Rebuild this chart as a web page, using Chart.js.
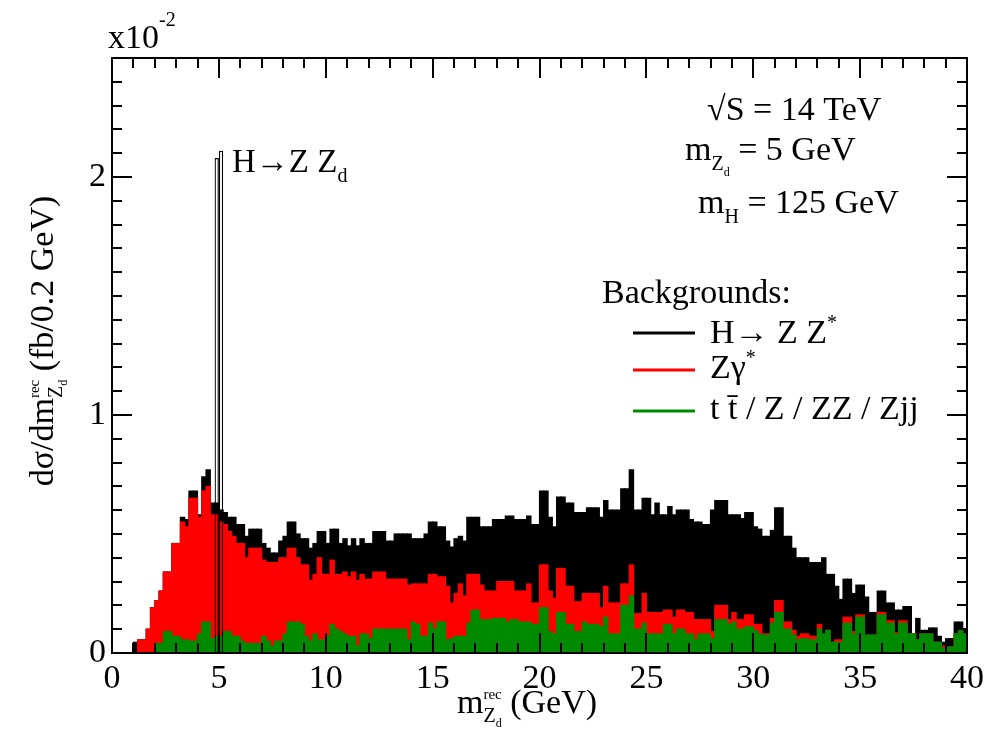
<!DOCTYPE html>
<html>
<head>
<meta charset="utf-8">
<script src="https://cdn.jsdelivr.net/npm/chart.js@4.4.1/dist/chart.umd.min.js"></script>
<style>
  html, body { margin: 0; padding: 0; background: #fff; }
</style>
</head>
<body>
<canvas id="mzd" width="1002" height="744"></canvas>
<script>
// reconstructed m_Zd, 0.2 GeV bins from 0 to 40 GeV, y in units of 1e-2 fb
var binWidth = 0.2;
var nBins = 200;
var xTicks = [0, 5, 10, 15, 20, 25, 30, 35, 40];
var yTicks = [0, 1, 2];

// tops of the stacked backgrounds
// black = everything incl. H -> Z Z*
var totalBkg = [
  0, 0, 0, 0, 0, 0.045, 0.055, 0.055, 0.10, 0.19,
  0.22, 0.26, 0.34, 0.34, 0.46, 0.46, 0.57, 0.56, 0.68, 0.68,
  0.58, 0.74, 0.77, 0.63, 0.63, 0.60, 0.59, 0.57, 0.57, 0.54,
  0.54, 0.49, 0.52, 0.52, 0.52, 0.46, 0.44, 0.42, 0.42, 0.47,
  0.49, 0.55, 0.55, 0.50, 0.48, 0.48, 0.44, 0.46, 0.51, 0.51,
  0.46, 0.52, 0.52, 0.46, 0.48, 0.45, 0.48, 0.45, 0.48, 0.46,
  0.46, 0.51, 0.51, 0.51, 0.47, 0.47, 0.50, 0.50, 0.50, 0.50,
  0.48, 0.48, 0.48, 0.50, 0.55, 0.55, 0.53, 0.53, 0.47, 0.445,
  0.48, 0.49, 0.47, 0.57, 0.57, 0.57, 0.53, 0.53, 0.53, 0.56,
  0.56, 0.56, 0.575, 0.575, 0.56, 0.56, 0.56, 0.575, 0.54, 0.54,
  0.68, 0.68, 0.57, 0.53, 0.655, 0.655, 0.63, 0.63, 0.59, 0.59,
  0.59, 0.61, 0.61, 0.61, 0.57, 0.64, 0.60, 0.60, 0.60, 0.69,
  0.69, 0.77, 0.60, 0.60, 0.65, 0.65, 0.58, 0.63, 0.58, 0.58,
  0.615, 0.58, 0.60, 0.60, 0.60, 0.56, 0.55, 0.55, 0.54, 0.54,
  0.60, 0.64, 0.64, 0.64, 0.58, 0.58, 0.58, 0.565, 0.59, 0.59,
  0.53, 0.52, 0.49, 0.49, 0.515, 0.61, 0.61, 0.49, 0.49, 0.44,
  0.40, 0.40, 0.40, 0.38, 0.38, 0.38, 0.40, 0.33, 0.33, 0.28,
  0.225, 0.31, 0.31, 0.25, 0.285, 0.285, 0.235, 0.17, 0.17, 0.26,
  0.26, 0.21, 0.21, 0.18, 0.18, 0.195, 0.195, 0.08, 0.145, 0.095,
  0.095, 0.105, 0.105, 0.07, 0.045, 0.06, 0.06, 0.13, 0.13, 0.10
];
// red = Z gamma* + green
var zgammaTop = [
  0, 0, 0, 0, 0, 0, 0.055, 0.055, 0.10, 0.19,
  0.22, 0.26, 0.34, 0.34, 0.46, 0.46, 0.55, 0.53, 0.65, 0.65,
  0.57, 0.68, 0.70, 0.58, 0.58, 0.55, 0.54, 0.51, 0.49, 0.46,
  0.46, 0.40, 0.44, 0.44, 0.44, 0.39, 0.38, 0.38, 0.38, 0.40,
  0.40, 0.44, 0.44, 0.40, 0.37, 0.37, 0.305, 0.33, 0.40, 0.33,
  0.33, 0.39, 0.33, 0.33, 0.34, 0.32, 0.34, 0.305, 0.33, 0.31,
  0.31, 0.34, 0.34, 0.34, 0.31, 0.31, 0.31, 0.31, 0.31, 0.285,
  0.29, 0.29, 0.29, 0.29, 0.33, 0.33, 0.32, 0.32, 0.28, 0.21,
  0.25, 0.29, 0.24, 0.33, 0.33, 0.33, 0.285, 0.26, 0.26, 0.26,
  0.30, 0.30, 0.30, 0.30, 0.26, 0.26, 0.26, 0.29, 0.21, 0.21,
  0.37, 0.37, 0.26, 0.23, 0.355, 0.355, 0.28, 0.28, 0.215, 0.215,
  0.25, 0.25, 0.25, 0.25, 0.19, 0.28, 0.21, 0.21, 0.21, 0.29,
  0.29, 0.37, 0.165, 0.165, 0.25, 0.17, 0.17, 0.17, 0.17, 0.18,
  0.18, 0.15, 0.18, 0.18, 0.17, 0.17, 0.14, 0.14, 0.14, 0.14,
  0.09, 0.20, 0.20, 0.20, 0.14, 0.17, 0.14, 0.14, 0.16, 0.16,
  0.12, 0.12, 0.08, 0.08, 0.145, 0.22, 0.22, 0.13, 0.13, 0.095,
  0.07, 0.08, 0.08, 0.07, 0.07, 0.12, 0.08, 0.095, 0.045, 0.055,
  0.055, 0.15, 0.15, 0.09, 0.16, 0.16, 0.075, 0.075, 0.075, 0.17,
  0.17, 0.135, 0.135, 0.085, 0.135, 0.135, 0.08, 0.08, 0.055, 0.08,
  0.08, 0.08, 0.045, 0.045, 0.03, 0.025, 0.025, 0.08, 0.10, 0.08
];
// green = ttbar / Z / ZZ / Zjj
var otherBkg = [
  0, 0, 0, 0, 0, 0, 0, 0, 0, 0,
  0.04, 0.04, 0.09, 0.09, 0.07, 0.07, 0.055, 0.055, 0.05, 0.05,
  0.08, 0.13, 0.13, 0.06, 0.07, 0.07, 0.09, 0.09, 0.07, 0.07,
  0.05, 0.04, 0.04, 0.04, 0.04, 0.07, 0.05, 0.03, 0.05, 0.05,
  0.08, 0.13, 0.13, 0.13, 0.12, 0.07, 0.05, 0.08, 0.055, 0.055,
  0.07, 0.12, 0.10, 0.09, 0.08, 0.07, 0.07, 0.03, 0.08, 0.08,
  0.06, 0.10, 0.10, 0.10, 0.10, 0.10, 0.10, 0.10, 0.10, 0.055,
  0.13, 0.12, 0.07, 0.07, 0.125, 0.10, 0.13, 0.13, 0.055, 0.06,
  0.07, 0.07, 0.07, 0.125, 0.18, 0.18, 0.14, 0.14, 0.14, 0.145,
  0.145, 0.145, 0.13, 0.14, 0.14, 0.13, 0.13, 0.13, 0.12, 0.12,
  0.19, 0.19, 0.09, 0.08, 0.17, 0.17, 0.12, 0.12, 0.09, 0.09,
  0.13, 0.12, 0.12, 0.12, 0.11, 0.15, 0.08, 0.08, 0.08, 0.20,
  0.20, 0.24, 0.10, 0.10, 0.125, 0.08, 0.08, 0.08, 0.08, 0.12,
  0.12, 0.08, 0.10, 0.10, 0.08, 0.08, 0.055, 0.08, 0.08, 0.08,
  0.06, 0.14, 0.14, 0.14, 0.12, 0.13, 0.10, 0.10, 0.11, 0.11,
  0.095, 0.08, 0.075, 0.075, 0.125, 0.17, 0.17, 0.10, 0.10, 0.075,
  0.055, 0.06, 0.06, 0.055, 0.055, 0.10, 0.08, 0.095, 0.045, 0.045,
  0.045, 0.125, 0.125, 0.08, 0.15, 0.15, 0.075, 0.075, 0.075, 0.16,
  0.16, 0.125, 0.125, 0.08, 0.125, 0.125, 0.08, 0.08, 0.055, 0.08,
  0.08, 0.08, 0.045, 0.045, 0.02, 0.025, 0.025, 0.08, 0.10, 0.08
];

// signal H -> Z Zd, two bins around 5 GeV
var signalX = [4.9, 5.1];
var signalY = [2.08, 2.11];

var red = '#ff0000';
var green = '#008a00';
var serif = '"Liberation Serif", "Times New Roman", serif';

function pts(vals) {
  return vals.map(function (v, i) { return { x: (i + 0.5) * binWidth, y: v }; });
}
function font(px) { return px + 'px ' + serif; }

// pieces: [text, size, dy, noAdvance]
function runText(ctx, x, y, pieces, dry) {
  var x0 = x;
  pieces.forEach(function (p) {
    ctx.font = font(p[1]);
    if (!dry) ctx.fillText(p[0], x, y + (p[2] || 0));
    if (!p[3]) x += ctx.measureText(p[0]).width;
  });
  return x - x0;
}
function centerText(ctx, cx, y, pieces) {
  var w = runText(ctx, 0, 0, pieces, true);
  runText(ctx, cx - w / 2, y, pieces);
}

var decor = {
  id: 'decor',
  afterDraw: function (chart) {
    var ctx = chart.ctx, a = chart.chartArea;
    var xs = chart.scales.x, ys = chart.scales.y;
    ctx.save();
    ctx.strokeStyle = '#000';
    ctx.fillStyle = '#000';
    ctx.lineWidth = 2;
    ctx.strokeRect(a.left, a.top, a.right - a.left, a.bottom - a.top);

    // inner ticks on all four sides
    ctx.beginPath();
    for (var k = 0; k <= 40; k++) {
      var px = Math.round(xs.getPixelForValue(k));
      var len = k % 5 === 0 ? 20 : 10;
      ctx.moveTo(px, a.bottom); ctx.lineTo(px, a.bottom - len);
      ctx.moveTo(px, a.top); ctx.lineTo(px, a.top + len);
    }
    for (var j = 0; j <= 25; j++) {
      var py = Math.round(ys.getPixelForValue(j / 10));
      var ln = j % 10 === 0 ? 20 : 10;
      ctx.moveTo(a.left, py); ctx.lineTo(a.left + ln, py);
      ctx.moveTo(a.right, py); ctx.lineTo(a.right - ln, py);
    }
    ctx.stroke();

    ctx.textBaseline = 'alphabetic';
    ctx.textAlign = 'left';

    // exponent
    runText(ctx, 108, 48, [['x10', 34], ['-2', 20, -22]]);

    // signal label
    runText(ctx, 232, 172, [['H\u2192Z Z', 33], ['d', 20, 10]]);

    // running conditions
    runText(ctx, 707, 120, [['\u221AS = 14 TeV', 34]]);
    runText(ctx, 685, 160, [['m', 34], ['Z', 20, 10], ['d', 12, 16], [' = 5 GeV', 34]]);
    runText(ctx, 698, 213, [['m', 34], ['H', 20, 10], [' = 125 GeV', 34]]);

    // legend
    runText(ctx, 602, 303, [['Backgrounds:', 34]]);
    var rows = [
      ['#000', 333, 343, [['H\u2192 Z Z', 34], ['*', 20, -14]]],
      [red, 370, 378, [['Z\u03B3', 34], ['*', 20, -14]]],
      [green, 411, 419, [['t t\u0304 / Z / ZZ / Zjj', 34]]]
    ];
    rows.forEach(function (r) {
      ctx.strokeStyle = r[0];
      ctx.lineWidth = 3;
      ctx.beginPath();
      ctx.moveTo(633, r[1]); ctx.lineTo(695, r[1]);
      ctx.stroke();
      runText(ctx, 710, r[2], r[3]);
    });

    // axis titles
    var massParts = [['rec', 15, -14, true], ['Z', 20, 9], ['d', 12, 14]];
    centerText(ctx, 527, 713, [['m', 34]].concat(massParts, [[' (GeV)', 34]]));
    ctx.translate(53, 341);
    ctx.rotate(-Math.PI / 2);
    centerText(ctx, 0, 0, [['d\u03C3/dm', 34]].concat(massParts, [[' (fb/0.2 GeV)', 34]]));
    ctx.restore();
  }
};

new Chart('mzd', {
  type: 'bar',
  data: {
    datasets: [
      {
        label: 'H\u2192Z Zd',
        data: signalX.map(function (x, i) { return { x: x, y: signalY[i] }; }),
        backgroundColor: 'rgba(0,0,0,0)',
        borderColor: '#000',
        borderWidth: 1.2,
        borderSkipped: false,
        inflateAmount: 0,
        order: -1
      },
      { label: 'tt / Z / ZZ / Zjj', data: pts(otherBkg), backgroundColor: green, inflateAmount: 0.6, order: 0 },
      { label: 'Z\u03B3*', data: pts(zgammaTop), backgroundColor: red, inflateAmount: 0.6, order: 1 },
      { label: 'H\u2192ZZ*', data: pts(totalBkg), backgroundColor: '#000', inflateAmount: 0.6, order: 2 }
    ]
  },
  options: {
    responsive: false,
    animation: false,
    devicePixelRatio: 1,
    layout: { padding: { top: 58, right: 35, left: 0, bottom: 0 } },
    datasets: { bar: { grouped: false, barPercentage: 1, categoryPercentage: 1 } },
    plugins: { legend: { display: false }, tooltip: { enabled: false } },
    scales: {
      x: {
        type: 'linear', min: 0, max: nBins * binWidth, offset: false,
        grid: { display: false, drawTicks: false }, border: { display: false },
        afterBuildTicks: function (s) { s.ticks = xTicks.map(function (v) { return { value: v }; }); },
        ticks: { font: { family: serif, size: 34 }, color: '#000', padding: 6, maxRotation: 0, autoSkip: false },
        afterFit: function (s) { s.height = 91; }
      },
      y: {
        type: 'linear', min: 0, max: 2.5,
        grid: { display: false, drawTicks: false }, border: { display: false },
        afterBuildTicks: function (s) { s.ticks = yTicks.map(function (v) { return { value: v }; }); },
        ticks: { font: { family: serif, size: 34 }, color: '#000', padding: 6 },
        afterFit: function (s) { s.width = 112; }
      }
    }
  },
  plugins: [decor]
});
</script>
</body>
</html>
